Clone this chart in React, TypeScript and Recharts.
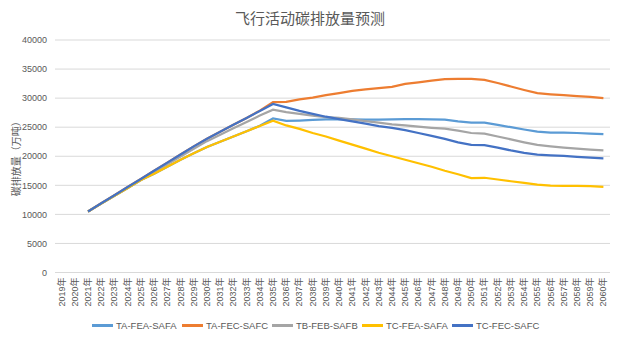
import {
  CartesianGrid,
  Label,
  Legend,
  Line,
  LineChart,
  XAxis,
  YAxis,
} from "recharts";

const years = [
  "2019年", "2020年", "2021年", "2022年", "2023年", "2024年", "2025年",
  "2026年", "2027年", "2028年", "2029年", "2030年", "2031年", "2032年",
  "2033年", "2034年", "2035年", "2036年", "2037年", "2038年", "2039年",
  "2040年", "2041年", "2042年", "2043年", "2044年", "2045年", "2046年",
  "2047年", "2048年", "2049年", "2050年", "2051年", "2052年", "2053年",
  "2054年", "2055年", "2056年", "2057年", "2058年", "2059年", "2060年",
];

// 2019, 2020 没有数据
const taFeaSafa = [
  null, null, 10500, 11850, 13200, 14550, 15900, 17000, 18200, 19400, 20500, 21600,
  22500, 23400, 24300, 25250, 26500,
  26100, 26150, 26250, 26350, 26400,
  26350, 26300, 26300, 26350, 26400,
  26400, 26350, 26300, 26000, 25800,
  25800, 25400, 25000, 24600, 24250,
  24050, 24050, 24000, 23900, 23800,
];

const taFecSafc = [
  null, null, 10500, 11900, 13300, 14700, 16100, 17500, 18900, 20300, 21700, 23000,
  24200, 25400, 26600, 27850, 29300,
  29350, 29800, 30100, 30500, 30850,
  31250, 31500, 31700, 31950, 32450,
  32700, 33000, 33250, 33300, 33300,
  33150, 32600, 32000, 31400, 30850,
  30650, 30500, 30350, 30200, 30000,
];

const tbFebSafb = [
  null, null, 10500, 11850, 13200, 14550, 15900, 17250, 18600, 19950, 21300, 22600,
  23700, 24800, 25900, 27000, 28000,
  27600, 27300, 27000, 26750, 26600,
  26350, 26050, 25800, 25500, 25300,
  25100, 24900, 24750, 24400, 24000,
  23900, 23400, 22900, 22400, 21950,
  21700, 21500, 21300, 21150, 21000,
];

const tcFeaSafa = [
  null, null, 10500, 11850, 13200, 14550, 15900, 17000, 18200, 19400, 20500, 21600,
  22500, 23400, 24300, 25200, 26100,
  25300, 24700, 24000, 23400, 22700,
  22000, 21300, 20600, 20000, 19400,
  18800, 18200, 17500, 16900, 16250,
  16300, 16000, 15700, 15400, 15100,
  14950, 14900, 14900, 14850, 14750,
];

const tcFecSafc = [
  null, null, 10500, 11900, 13300, 14700, 16100, 17500, 18900, 20300, 21700, 23000,
  24200, 25400, 26600, 27800, 29000,
  28400, 27800, 27300, 26800, 26400,
  26000, 25600, 25200, 24900, 24500,
  24000, 23500, 23000, 22400, 21950,
  21900, 21500, 21000, 20600, 20300,
  20150, 20050, 19900, 19750, 19650,
];

const yTicks = [0, 5000, 10000, 15000, 20000, 25000, 30000, 35000, 40000];

const series = [
  { key: "TA-FEA-SAFA", values: taFeaSafa, color: "#5B9BD5" },
  { key: "TA-FEC-SAFC", values: taFecSafc, color: "#ED7D31" },
  { key: "TB-FEB-SAFB", values: tbFebSafb, color: "#A5A5A5" },
  { key: "TC-FEA-SAFA", values: tcFeaSafa, color: "#FFC000" },
  { key: "TC-FEC-SAFC", values: tcFecSafc, color: "#4472C4" },
];

const chartData = years.map((year, i) => {
  const row: Record<string, string | number | null> = { year };
  series.forEach((s) => {
    row[s.key] = s.values[i];
  });
  return row;
});

const FONT = "'Liberation Sans', 'Noto Sans CJK SC', sans-serif";

function YearTick({ x, y, payload }: any) {
  return (
    <text
      x={x}
      y={y}
      transform={`rotate(-90, ${x}, ${y})`}
      textAnchor="end"
      dominantBaseline="central"
      fontSize={9}
      fontFamily={FONT}
      fill="#595959"
    >
      {payload.value}
    </text>
  );
}

function LegendBox() {
  return (
    <div style={{ display: "flex", paddingLeft: 92, height: 20, alignItems: "center" }}>
      {series.map((s) => (
        <div key={s.key} style={{ width: 90, display: "flex", alignItems: "center" }}>
          <span style={{ display: "inline-block", width: 21, height: 3, background: s.color }} />
          <span
            style={{
              marginLeft: 3,
              fontSize: 9.5,
              fontFamily: FONT,
              color: "#595959",
              whiteSpace: "nowrap",
            }}
          >
            {s.key}
          </span>
        </div>
      ))}
    </div>
  );
}

export default function App() {
  return (
    <div
      style={{
        position: "absolute",
        left: 0,
        top: 0,
        width: 620,
        height: 339,
        background: "#fff",
      }}
    >
      <div
        style={{
          position: "absolute",
          top: 7,
          left: 0,
          width: 620,
          textAlign: "center",
          fontSize: 15,
          fontFamily: FONT,
          color: "#595959",
        }}
      >
        飞行活动碳排放量预测
      </div>
      <LineChart
        width={620}
        height={339}
        data={chartData}
        margin={{ top: 40, right: 10, left: 8, bottom: 4 }}
      >
        <CartesianGrid vertical={false} stroke="#d9d9d9" />
        <XAxis
          dataKey="year"
          interval={0}
          height={42.5}
          padding={{ left: 6.6, right: 6.6 }}
          tick={<YearTick />}
          tickSize={0}
          tickMargin={5}
          tickLine={false}
          axisLine={{ stroke: "#d9d9d9" }}
        />
        <YAxis
          width={47}
          domain={[0, 40000]}
          ticks={yTicks}
          tick={{ fontSize: 9, fontFamily: FONT, fill: "#595959" }}
          tickLine={false}
          axisLine={false}
        >
          <Label
            value="碳排放量（万吨）"
            angle={-90}
            position="insideLeft"
            offset={8}
            style={{ fontSize: 10, fontFamily: FONT, fill: "#595959", textAnchor: "middle" }}
          />
        </YAxis>
        <Legend
          verticalAlign="bottom"
          content={<LegendBox />}
          wrapperStyle={{ left: 0, width: 620 }}
        />
        {series.map((s) => (
          <Line
            key={s.key}
            type="linear"
            dataKey={s.key}
            stroke={s.color}
            strokeWidth={2.25}
            dot={false}
            activeDot={false}
            isAnimationActive={false}
          />
        ))}
      </LineChart>
    </div>
  );
}
